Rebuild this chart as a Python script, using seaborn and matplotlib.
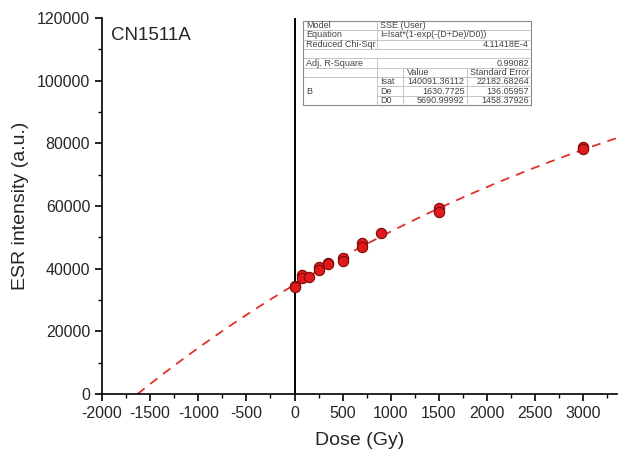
import numpy as np
import pandas as pd
import matplotlib
matplotlib.use("Agg")
import matplotlib.pyplot as plt
import seaborn as sns
from matplotlib.ticker import MultipleLocator

# ---- data ----
dose = [0, 0, 75, 75, 150, 250, 250, 350, 350, 500, 500, 700, 700, 900, 1500, 1500, 3000, 3000]
esr = [34560, 34000, 37900, 37100, 37440, 40600, 39600, 41900, 41400, 43500, 42600,
       48100, 46800, 51500, 59400, 58100, 78900, 78300]

# fit parameters shown in the inset table
Isat = 140091.36112
De = 1630.7725
D0 = 5690.99992
table_rows = [
    ("Model", "", "SSE (User)", ""),
    ("Equation", "", "I=Isat*(1-exp(-(D+De)/D0))", ""),
    ("Reduced Chi-Sqr", "", "", "4.11418E-4"),
    ("", "", "", ""),
    ("Adj. R-Square", "", "", "0.99082"),
    ("", "", "Value", "Standard Error"),
    ("B", "Isat", "140091.36112", "22182.68264"),
    ("", "De", "1630.7725", "136.05957"),
    ("", "D0", "5690.99992", "1458.37926"),
]

sns.set_theme(style="ticks")
plt.rcParams["font.family"] = ["Liberation Sans", "DejaVu Sans"]
plt.rcParams["axes.unicode_minus"] = False

fig = plt.figure(figsize=(6.19, 4.57), dpi=100)
ax = fig.add_axes([102/619, 63/457, 515/619, 376/457])

df = pd.DataFrame({"Dose": dose, "ESR": esr})
fit_x = np.linspace(-De, 3360, 200)
fit_df = pd.DataFrame({"Dose": fit_x, "ESR": Isat * (1 - np.exp(-(fit_x + De) / D0))})

sns.lineplot(data=fit_df, x="Dose", y="ESR", ax=ax, color="#e0302a", lw=1.3,
             linestyle=(0, (5, 4)), zorder=2)
ax.axvline(0, color="black", lw=1.4, zorder=1)
sns.scatterplot(data=df, x="Dose", y="ESR", ax=ax, s=55, color="#e01a1a",
                edgecolor="#7a0a0a", linewidth=0.8, zorder=3)

ax.set_xlim(-2000, 3350)
ax.set_ylim(0, 120000)
ax.xaxis.set_major_locator(MultipleLocator(500))
ax.xaxis.set_minor_locator(MultipleLocator(250))
ax.yaxis.set_major_locator(MultipleLocator(20000))
ax.yaxis.set_minor_locator(MultipleLocator(10000))
ax.set_xticks(np.arange(-2000, 3001, 500))
ax.tick_params(axis="both", which="major", length=5, width=1.2, labelsize=11.5, color="black")
ax.tick_params(axis="both", which="minor", length=3, width=1.0, color="black")
for s in ["top", "right"]:
    ax.spines[s].set_visible(False)
for s in ["left", "bottom"]:
    ax.spines[s].set_linewidth(1.2)
    ax.spines[s].set_color("black")
ax.set_xlabel("Dose (Gy)", fontsize=14, labelpad=8)
ax.set_ylabel("ESR intensity (a.u.)", fontsize=14, labelpad=6)
ax.text(0.018, 0.975, "CN1511A", transform=ax.transAxes, fontsize=13.5, va="top", ha="left")

# ---- inset table ----
W, H = 619, 457
tx0, tx1, ty0, ty1 = 302, 532, 20, 106
tab = fig.add_axes([tx0/W, 1 - ty1/H, (tx1-tx0)/W, (ty1-ty0)/H])
tab.set_xlim(tx0 - 1, tx1 + 1)
tab.set_ylim(ty1 + 1, ty0 - 1)
tab.axis("off")
tab.patch.set_visible(False)
tab.add_patch(plt.Rectangle((tx0, ty0), tx1-tx0, ty1-ty0, facecolor="white",
                            edgecolor="#888888", lw=0.8, zorder=0, clip_on=False))
cols = [302, 377, 403, 467, 532]
n = len(table_rows)
rh = (ty1 - ty0) / n
lc = "#bbbbbb"
for i in range(1, n):
    y = ty0 + i * rh
    if i in (7, 8):
        tab.plot([cols[1], tx1], [y, y], color=lc, lw=0.6)
    else:
        tab.plot([tx0, tx1], [y, y], color=lc, lw=0.6)
tab.plot([cols[1], cols[1]], [ty0, ty0 + 3*rh], color=lc, lw=0.6)
tab.plot([cols[1], cols[1]], [ty0 + 4*rh, ty1], color=lc, lw=0.6)
tab.plot([cols[2], cols[2]], [ty0 + 5*rh, ty1], color=lc, lw=0.6)
tab.plot([cols[3], cols[3]], [ty0 + 5*rh, ty1], color=lc, lw=0.6)
fs = 6.5
tc = "#444444"
for i, (a, b, c, d) in enumerate(table_rows):
    yc = ty0 + (i + 0.5) * rh
    if a:
        tab.text(cols[0] + 3, yc if a != "B" else ty0 + 7.5*rh, a, fontsize=fs, va="center", color=tc)
    if b:
        tab.text(cols[1] + 3, yc, b, fontsize=fs, va="center", color=tc)
    if c:
        if i < 2:
            tab.text(cols[1] + 3, yc, c, fontsize=fs, va="center", color=tc)
        elif c == "Value":
            tab.text(cols[2] + 4, yc, c, fontsize=fs, va="center", color=tc)
        else:
            tab.text(cols[3] - 2, yc, c, fontsize=fs, va="center", ha="right", color=tc)
    if d:
        if d == "Standard Error":
            tab.text(cols[3] + 3, yc, d, fontsize=fs, va="center", color=tc)
        else:
            tab.text(tx1 - 2, yc, d, fontsize=fs, va="center", ha="right", color=tc)

fig.savefig("out.png", dpi=100)
